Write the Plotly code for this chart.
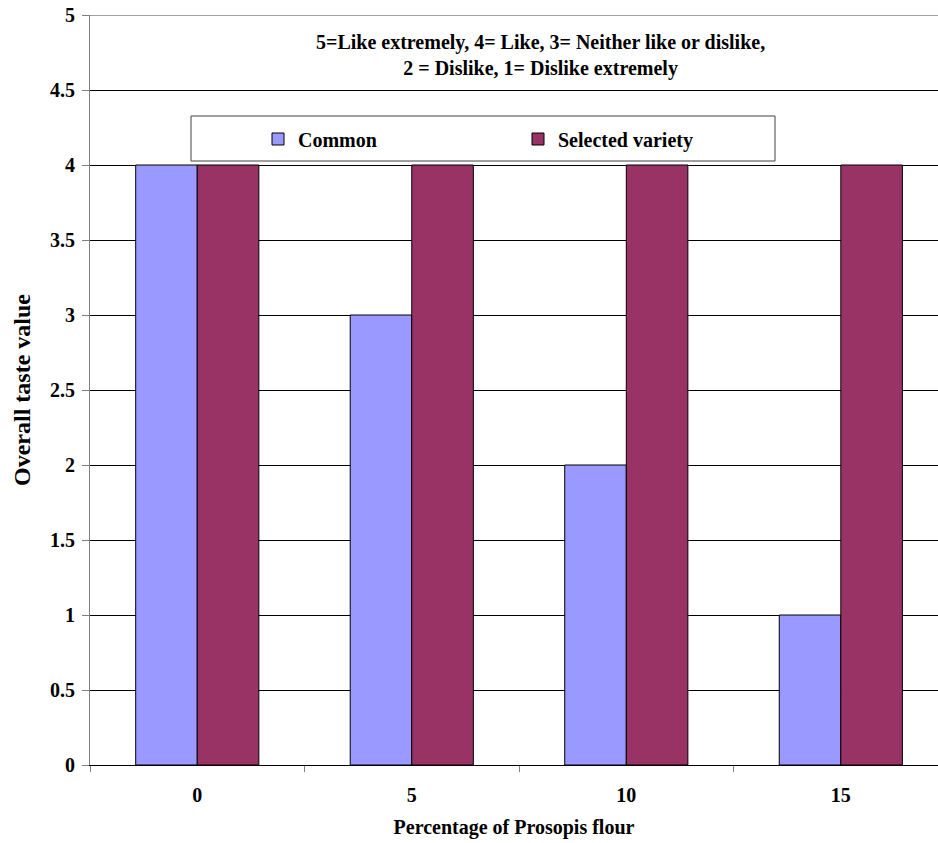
import plotly.graph_objects as go

categories = ["0", "5", "10", "15"]
common = [4, 3, 2, 1]
selected = [4, 4, 4, 4]
series_names = ["Common", "Selected variety"]
y_ticks = [0, 0.5, 1, 1.5, 2, 2.5, 3, 3.5, 4, 4.5, 5]

font_family = "Liberation Serif, Times New Roman, serif"
xpos = list(range(len(categories)))

fig = go.Figure()
fig.add_trace(go.Bar(x=xpos, y=common, name=series_names[0],
                     marker=dict(color="#9999FF", line=dict(color="#000000", width=1)),
                     offset=-0.287, width=0.287))
fig.add_trace(go.Bar(x=xpos, y=selected, name=series_names[1],
                     marker=dict(color="#993366", line=dict(color="#000000", width=1)),
                     offset=0.0, width=0.287))

fig.update_layout(
    width=938, height=843,
    margin=dict(l=90, r=0, t=15, b=78),
    plot_bgcolor="white", paper_bgcolor="white",
    font=dict(family=font_family, color="black"),
    barmode="overlay",
    showlegend=True,
    hovermode=False,
    legend=dict(orientation="h", x=(258 - 90) / 848, y=(765 - 139) / 750,
                xanchor="left", yanchor="middle",
                bgcolor="rgba(0,0,0,0)", entrywidth=215, entrywidthmode="pixels",
                font=dict(family=font_family, size=20, color="black", weight="bold"),
                itemclick=False),
    xaxis=dict(
        range=[-0.5, 3.453], tickmode="array", tickvals=xpos, ticktext=categories,
        ticks="", showgrid=False, showline=True, linecolor="black", linewidth=1,
        tickfont=dict(family=font_family, size=20, color="black", weight="bold"),
        ticklabelstandoff=12,
        minor=dict(tickmode="array", tickvals=[-0.5, 0.5, 1.5, 2.5], ticks="outside",
                   ticklen=6, tickcolor="#808080", tickwidth=1),
        title=dict(text="Percentage of Prosopis flour", standoff=14,
                   font=dict(family=font_family, size=20, color="black", weight="bold")),
        zeroline=False, fixedrange=True, automargin=False,
    ),
    yaxis=dict(
        range=[0, 5], tickmode="array", tickvals=y_ticks,
        showgrid=True, gridcolor="black", gridwidth=1,
        showline=True, linecolor="#808080", linewidth=1,
        ticks="outside", ticklen=7, tickcolor="#808080",
        ticklabelstandoff=3, ticklabeloverflow="allow",
        tickfont=dict(family=font_family, size=20, color="black", weight="bold"),
        title=dict(text="Overall taste value", standoff=12,
                   font=dict(family=font_family, size=24, color="black", weight="bold")),
        zeroline=False, fixedrange=True, automargin=False,
    ),
)

# legend box
fig.add_shape(type="rect", xref="paper", yref="paper",
              x0=(191 - 90) / 848, x1=(775 - 90) / 848,
              y0=(765 - 161) / 750, y1=(765 - 116) / 750,
              line=dict(color="#404040", width=1), fillcolor="white", layer="above")
# top border line at 5
fig.add_shape(type="line", xref="paper", yref="y", x0=0, x1=1, y0=5, y1=5,
              line=dict(color="#808080", width=1.5), layer="above")

fig.add_annotation(
    text="5=Like extremely, 4= Like, 3= Neither like or dislike,<br>2 = Dislike, 1= Dislike extremely",
    xref="paper", yref="paper", x=(540 - 90) / 848, y=(765 - 55) / 750,
    showarrow=False, align="center", xanchor="center", yanchor="middle",
    font=dict(family=font_family, size=20, color="black", weight="bold"))

fig.write_html("out.html",
               config={"displayModeBar": False, "staticPlot": True},
               post_script="document.body.style.margin='0';document.body.style.overflow='hidden';")
